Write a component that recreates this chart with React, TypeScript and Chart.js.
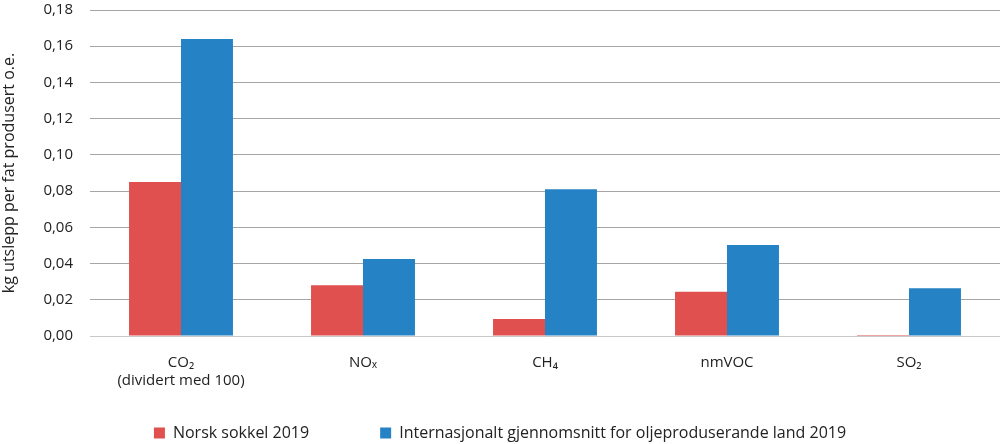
import React, { useEffect, useRef } from "react";
import { Chart, registerables } from "chart.js";

Chart.register(...registerables);

const categories: (string | string[])[] = [
  ["CO₂", "(dividert med 100)"],
  "NOₓ",
  "CH₄",
  "nmVOC",
  "SO₂",
];
const norskSokkel = [0.085, 0.028, 0.0094, 0.0245, 0.0006];
const internasjonalt = [0.164, 0.0425, 0.081, 0.0503, 0.0263];
const seriesNames = [
  "Norsk sokkel 2019",
  "Internasjonalt gjennomsnitt for oljeproduserande land 2019",
];
const yTitle = "kg utslepp per fat produsert o.e.";

const RED = "#E0504F";
const BLUE = "#2582C4";
const FONT = "'Open Sans', sans-serif";
const TEXT = "#222222";

export default function App() {
  const ref = useRef<HTMLCanvasElement | null>(null);
  useEffect(() => {
    if (!ref.current) return;
    const chart = new Chart(ref.current, {
      type: "bar",
      data: {
        labels: categories,
        datasets: [
          {
            label: seriesNames[0],
            data: norskSokkel,
            backgroundColor: RED,
            categoryPercentage: 0.571,
            barPercentage: 1,
          },
          {
            label: seriesNames[1],
            data: internasjonalt,
            backgroundColor: BLUE,
            categoryPercentage: 0.571,
            barPercentage: 1,
          },
        ],
      },
      options: {
        animation: false,
        responsive: false,
        maintainAspectRatio: false,
        layout: { padding: { top: 10, right: 0, left: 0, bottom: -7 } },
        plugins: {
          legend: {
            position: "bottom",
            labels: {
              font: { family: FONT, size: 16 },
              color: TEXT,
              boxWidth: 11,
              boxHeight: 11,
              padding: 71,
            },
          },
          tooltip: { enabled: false },
        },
        scales: {
          x: {
            grid: { display: false },
            border: { color: "#c8c8c8" },
            ticks: {
              font: { family: FONT, size: 15 },
              color: TEXT,
              padding: 10,
              maxRotation: 0,
              autoSkip: false,
            },
            afterFit: (s: any) => {
              s.height = 18;
              // let the tick labels draw below the (short) axis box
              s._computeLabelArea = () => undefined;
            },
          },
          y: {
            min: 0,
            max: 0.18,
            border: { display: false },
            grid: { color: "#a6a6a6", drawTicks: false },
            ticks: {
              stepSize: 0.02,
              padding: 17,
              font: { family: FONT, size: 15 },
              color: TEXT,
              callback: (v: any) => Number(v).toFixed(2).replace(".", ","),
            },
            title: {
              display: true,
              text: yTitle,
              font: { family: FONT, size: 16 },
              color: TEXT,
              padding: { top: 0, bottom: 4 },
            },
            afterFit: (s: any) => {
              s.width = 90;
              s.paddingTop = 0;
              s.paddingBottom = 0;
            },
          },
        },
      },
    });
    return () => chart.destroy();
  }, []);
  return (
    <div style={{ position: "fixed", left: 0, top: 0, width: 1000, height: 444, background: "#fff" }}>
      <canvas ref={ref} width={1000} height={444} style={{ width: 1000, height: 444 }} />
    </div>
  );
}
